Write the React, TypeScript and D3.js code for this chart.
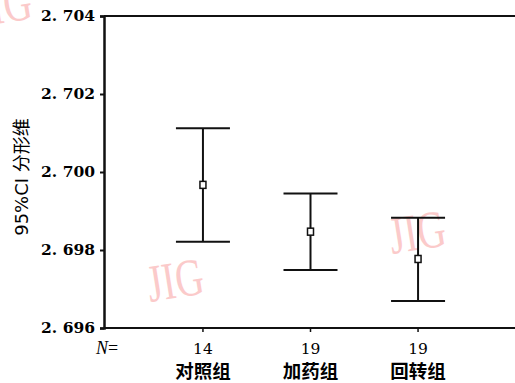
import React, { useEffect, useRef } from 'react'
import * as d3 from 'd3'

// chart data
const groups = ['对照组', '加药组', '回转组']
const counts = [14, 19, 19]
const means = [2.69967, 2.69847, 2.69777]
const lower = [2.69821, 2.69749, 2.69669]
const upper = [2.70112, 2.69945, 2.69883]
const yTicks = [2.696, 2.698, 2.7, 2.702, 2.704]
const yLabel = '95%CI 分形维'
const watermark = 'JIG'

const width = 515
const height = 383
const left = 104
const right = 517
const top = 16
const bottom = 328

const App = () => {
  const ref = useRef<SVGSVGElement>(null)

  useEffect(() => {
    const svg = d3.select(ref.current)
    svg.selectAll('*').remove()

    // watermarks under everything
    const marks = [
      { x: -22, y: 27 },
      { x: 150, y: 302 },
      { x: 392, y: 254 },
    ]
    svg
      .selectAll('.wm')
      .data(marks)
      .enter()
      .append('text')
      .attr('class', 'wm')
      .attr('transform', (d) => `translate(${d.x}, ${d.y}) rotate(-9) scale(0.85, 1.15)`)
      .attr('font-family', 'Liberation Serif')
      .attr('font-size', 46)
      .attr('fill', '#fbcaca')
      .text(watermark)

    const x = d3.scalePoint<string>().domain(groups).range([left, right]).padding(0.92)
    const y = d3.scaleLinear().domain([2.696, 2.704]).range([bottom, top])

    // frame lines
    svg
      .append('line')
      .attr('x1', left)
      .attr('x2', width)
      .attr('y1', top)
      .attr('y2', top)
      .attr('stroke', '#111')
      .attr('stroke-width', 2)
    svg
      .append('line')
      .attr('x1', left)
      .attr('x2', width)
      .attr('y1', bottom)
      .attr('y2', bottom)
      .attr('stroke', '#111')
      .attr('stroke-width', 2)

    // y axis
    const yAxis = svg
      .append('g')
      .attr('transform', `translate(${left}, 0)`)
      .call(
        d3
          .axisLeft(y)
          .tickValues(yTicks)
          .tickSize(4)
          .tickPadding(5)
          .tickFormat((d) => d3.format('.3f')(d as number).replace('.', '. '))
      )
    yAxis.select('.domain').attr('stroke', '#111').attr('stroke-width', 2.5)
    yAxis.selectAll('.tick line').attr('stroke', '#111').attr('stroke-width', 2)
    yAxis
      .selectAll('.tick text')
      .attr('font-family', 'DejaVu Serif')
      .attr('font-weight', 'bold')
      .attr('font-size', 15.5)
      .attr('fill', '#000')
      .style('white-space', 'pre')

    // x ticks
    svg
      .selectAll('.xtick')
      .data(groups)
      .enter()
      .append('line')
      .attr('class', 'xtick')
      .attr('x1', (d) => x(d)!)
      .attr('x2', (d) => x(d)!)
      .attr('y1', bottom)
      .attr('y2', bottom + 4)
      .attr('stroke', '#111')
      .attr('stroke-width', 1.5)

    // N= row
    svg
      .append('text')
      .attr('x', 96)
      .attr('y', 354)
      .attr('font-family', 'Liberation Serif')
      .attr('font-size', 18)
      .attr('fill', '#000')
      .html('<tspan font-style="italic">N</tspan>=')

    svg
      .selectAll('.count')
      .data(counts)
      .enter()
      .append('text')
      .attr('class', 'count')
      .attr('x', (d, i) => x(groups[i])!)
      .attr('y', 354)
      .attr('text-anchor', 'middle')
      .attr('font-family', 'DejaVu Serif')
      .attr('font-size', 15.5)
      .attr('fill', '#000')
      .text((d) => d)

    svg
      .selectAll('.group')
      .data(groups)
      .enter()
      .append('text')
      .attr('class', 'group')
      .attr('x', (d) => x(d)!)
      .attr('y', 378)
      .attr('text-anchor', 'middle')
      .attr('font-family', 'Noto Sans CJK SC')
      .attr('font-weight', 'bold')
      .attr('font-size', 18.5)
      .attr('fill', '#000')
      .text((d) => d)

    // y label
    svg
      .append('text')
      .attr('transform', 'translate(28, 177) rotate(-90)')
      .attr('text-anchor', 'middle')
      .attr('font-family', 'DejaVu Sans, Noto Sans CJK SC')
      .attr('font-size', 18)
      .attr('fill', '#000')
      .text(yLabel)

    // error bars
    const capHalf = 27
    const bars = svg
      .selectAll('.bar')
      .data(groups)
      .enter()
      .append('g')
      .attr('class', 'bar')

    bars
      .append('line')
      .attr('x1', (d) => x(d)!)
      .attr('x2', (d) => x(d)!)
      .attr('y1', (d, i) => y(upper[i]))
      .attr('y2', (d, i) => y(lower[i]))
      .attr('stroke', '#111')
      .attr('stroke-width', 2)
    bars
      .append('line')
      .attr('x1', (d) => x(d)! - capHalf)
      .attr('x2', (d) => x(d)! + capHalf)
      .attr('y1', (d, i) => y(upper[i]))
      .attr('y2', (d, i) => y(upper[i]))
      .attr('stroke', '#111')
      .attr('stroke-width', 2)
    bars
      .append('line')
      .attr('x1', (d) => x(d)! - capHalf)
      .attr('x2', (d) => x(d)! + capHalf)
      .attr('y1', (d, i) => y(lower[i]))
      .attr('y2', (d, i) => y(lower[i]))
      .attr('stroke', '#111')
      .attr('stroke-width', 2)
    bars
      .append('rect')
      .attr('x', (d) => x(d)! - 3)
      .attr('y', (d, i) => y(means[i]) - 3.5)
      .attr('width', 6)
      .attr('height', 7)
      .attr('fill', 'white')
      .attr('stroke', '#111')
      .attr('stroke-width', 1.5)
  }, [])

  return (
    <svg
      ref={ref}
      width={width}
      height={height}
      style={{ position: 'absolute', left: 0, top: 0, display: 'block', background: 'white', overflow: 'hidden' }}
    />
  )
}

export default App
